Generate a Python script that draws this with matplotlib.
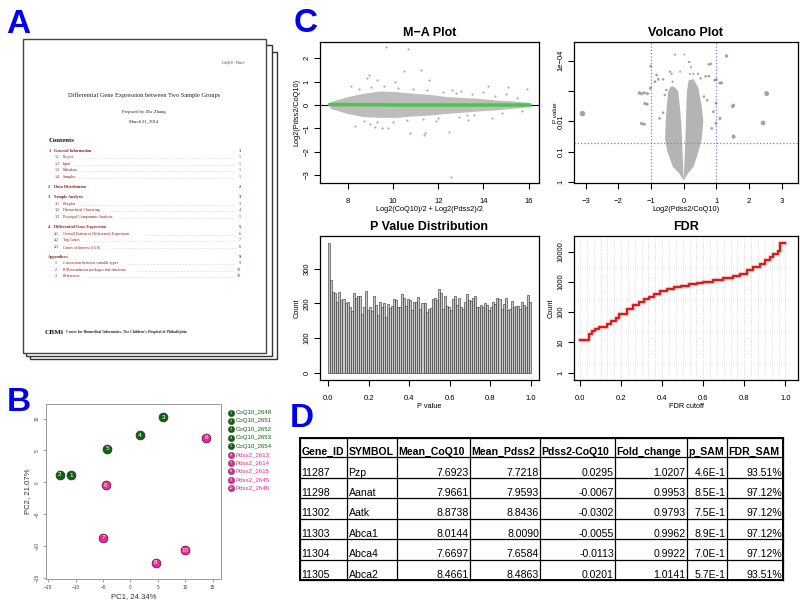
import numpy as np
import matplotlib.pyplot as plt
from matplotlib.patches import Rectangle

plt.rcParams['font.family'] = ['Liberation Sans', 'DejaVu Sans']

## ---------------- panel A : report cover (table of contents) ----------------
report_title = 'Differential Gene Expression between Two Sample Groups'
report_author = 'Prepared by Zhe Zhang'
report_date = 'March 21, 2014'
report_header = 'CoQ10 : Pdss2'
toc_num = ['1', '1.1', '1.2', '1.3', '1.4', '2', '3', '3.1', '3.2', '3.3',
           '4', '4.1', '4.2', '4.3', '', '.1', '.2', '.3']
toc_title = ['General Information', 'Project', 'Input', 'Metadata', 'Samples',
             'Data Distribution', 'Sample Analysis', 'Boxplot',
             'Hierarchical Clustering', 'Principal Components Analysis',
             'Differential Gene Expression',
             'Overall Pattern of Differential Expression', 'Top Genes',
             'Genes of Interest (GOI)', 'Appendices',
             'Conversion between variable types',
             'R/Bioconductor packages and functions', 'References']
toc_page = ['1', '1', '1', '1', '1', '2', '3', '3', '4', '5',
            '5', '6', '7', '8', '9', '9', '10', '10']

## ---------------- panel B : PCA ----------------
sample_names = ['CoQ10_2648', 'CoQ10_2651', 'CoQ10_2652', 'CoQ10_2653', 'CoQ10_2654',
                'Pdss2_2613', 'Pdss2_2614', 'Pdss2_2615', 'Pdss2_2645', 'Pdss2_2646']
sample_group = ['CoQ10'] * 5 + ['Pdss2'] * 5
pc1 = [-10.8, -12.9, 6.0, 1.7, -4.2, -4.5, -5.0, 4.6, 13.85, 10.0]
pc2 = [1.1, 1.2, 10.2, 7.4, 5.3, -0.5, -8.75, -12.65, 7.0, -10.7]

## ---------------- panel C : M-A plot ----------------
ma_env_a = [7.20, 7.94, 8.68, 9.42, 10.15, 10.89, 11.63, 12.37, 13.10, 13.84, 14.58, 15.32, 16.05]
ma_env_hi = [0.14, 0.35, 0.50, 0.60, 0.57, 0.50, 0.45, 0.36, 0.32, 0.28, 0.21, 0.17, 0.11]
ma_env_lo = [-0.14, -0.36, -0.50, -0.53, -0.53, -0.47, -0.43, -0.36, -0.31, -0.25, -0.21, -0.14, -0.07]
ma_fit = [0.02, 0.02, 0.01, 0.01, 0.0, 0.0, 0.0, 0.0, 0.0, 0.0, 0.0, 0.0, 0.0]
ma_out_a = [9.68, 10.67, 10.48, 11.24, 8.93, 8.83, 9.27, 10.08, 11.58, 8.13, 14.2, 15.1, 15.95,
            8.32, 8.97, 9.19, 9.52, 9.78, 10.74, 11.4, 11.38, 12.47, 12.57, 14.36, 13.25,
            8.5, 9.0, 9.6, 10.2, 10.9, 11.5, 12.2, 12.8, 13.5, 14.5, 15.5, 8.7, 9.3, 10.0,
            10.6, 11.3, 12.0, 12.9, 13.6, 14.8, 15.7, 13.0, 14.0, 13.3, 15.0, 12.6, 11.9]
ma_out_m = [2.5, 2.4, 1.47, 1.5, 1.29, 1.14, 1.07, 1.0, 1.07, 0.82, 0.82, 0.75, 0.68,
            -0.89, -0.81, -0.93, -0.97, -1.0, -1.21, -1.21, -1.3, -1.16, -3.1, -0.55, -0.43,
            0.7, 0.75, 0.8, 0.72, 0.68, 0.62, 0.55, 0.5, 0.45, 0.4, 0.3, -0.7, -0.72, -0.75,
            -0.65, -0.6, -0.55, -0.5, -0.42, -0.35, -0.25, 0.6, 0.55, -0.65, 0.45, 0.65, -0.7]

## ---------------- panel C : volcano ----------------
volc_left_x = [0.0, -0.15, -0.33, -0.5, -0.57, -0.55, -0.52, -0.47, -0.4, -0.3, -0.17, -0.12, -0.08, -0.05, -0.02]
volc_left_y = [0.05, 0.3, 0.5, 1.0, 1.4, 2.0, 2.5, 3.0, 3.15, 3.15, 3.0, 2.5, 2.0, 1.4, 0.6]
volc_right_x = [0.0, 0.02, 0.05, 0.07, 0.08, 0.1, 0.15, 0.3, 0.45, 0.55, 0.6, 0.55, 0.45, 0.3, 0.14]
volc_right_y = [0.05, 0.6, 1.4, 2.0, 2.5, 3.0, 3.35, 3.4, 3.1, 2.5, 2.0, 1.4, 1.0, 0.5, 0.3]
volc_x = [-3.10, 2.54, 1.31, 0.02, 0.15, -1.01, 0.83, -1.30, -1.11, -1.12, -1.21, 1.50, 2.43,
          1.53, 1.16, 1.00, -0.27, 0.18, 0.22, 0.30, 0.19, 0.44, 0.77, -0.83, -0.78, -0.63,
          -0.88, -0.34, -0.42, -0.37, -0.11, 0.67, 0.77, 0.95, 1.11, 0.52, -1.36, -1.21, -1.19,
          -1.29, -1.02, 1.52, 1.52, 1.11, 0.99, 0.99, 0.91, 0.86, -0.74, -0.63, -0.58, -0.53,
          0.62, 0.72]
volc_y = [2.26, 2.92, 4.16, 4.21, 3.96, 3.82, 3.90, 2.92, 2.92, 2.57, 1.91, 2.50, 1.95,
          1.49, 3.27, 3.38, 4.20, 3.96, 3.79, 3.57, 3.57, 3.57, 3.88, 3.53, 3.39, 3.39,
          3.31, 3.31, 3.64, 3.57, 3.64, 3.49, 3.49, 3.36, 3.27, 3.42, 2.94, 2.94, 2.59,
          1.93, 3.10, 2.53, 1.51, 2.10, 1.94, 2.60, 2.32, 1.77, 2.10, 2.29, 2.87, 3.04,
          2.82, 2.70]

## ---------------- panel C : p value histogram ----------------
p_counts = [375, 268, 232, 230, 205, 232, 210, 212, 200, 205, 190, 178, 230, 215, 222, 222,
            168, 190, 235, 180, 188, 178, 222, 195, 165, 204, 190, 200, 162, 198, 187, 192,
            212, 210, 188, 190, 228, 215, 193, 212, 210, 180, 205, 203, 218, 185, 200, 202,
            175, 185, 187, 213, 215, 210, 240, 230, 183, 222, 192, 190, 180, 212, 220, 195,
            215, 190, 185, 205, 228, 210, 208, 215, 222, 188, 190, 195, 188, 200, 195, 180,
            190, 205, 198, 215, 212, 185, 198, 215, 180, 185, 208, 190, 192, 192, 185, 203,
            195, 188, 225, 205]

## ---------------- panel C : FDR ----------------
fdr_cut = [0.0, 0.044, 0.06, 0.071, 0.093, 0.133, 0.149, 0.174, 0.19, 0.231, 0.26, 0.287,
           0.312, 0.336, 0.36, 0.39, 0.425, 0.458, 0.49, 0.531, 0.57, 0.6, 0.649, 0.698,
           0.747, 0.779, 0.812, 0.844, 0.877, 0.901, 0.926, 0.942, 0.962, 0.972, 1.0]
fdr_count = [12, 18.5, 24, 28, 33, 40, 51, 65, 85, 124, 171, 215, 265, 315, 387, 500, 590,
             675, 760, 870, 950, 1000, 1200, 1350, 1600, 1900, 2450, 3100, 4000, 5400, 6700,
             8500, 10700, 20000, 20000]

## ---------------- panel D : top table ----------------
tab_header = ['Gene_ID', 'SYMBOL', 'Mean_CoQ10', 'Mean_Pdss2', 'Pdss2-CoQ10',
              'Fold_change', 'p_SAM', 'FDR_SAM']
gene_id = ['11287', '11298', '11302', '11303', '11304', '11305']
gene_symbol = ['Pzp', 'Aanat', 'Aatk', 'Abca1', 'Abca4', 'Abca2']
mean_coq10 = [7.6923, 7.9661, 8.8738, 8.0144, 7.6697, 8.4661]
mean_pdss2 = [7.7218, 7.9593, 8.8436, 8.0090, 7.6584, 8.4863]
pdss2_minus_coq10 = [0.0295, -0.0067, -0.0302, -0.0055, -0.0113, 0.0201]
fold_change = [1.0207, 0.9953, 0.9793, 0.9962, 0.9922, 1.0141]
p_sam = ['4.6E-1', '8.5E-1', '7.5E-1', '8.9E-1', '7.0E-1', '5.7E-1']
fdr_sam = ['93.51%', '97.12%', '97.12%', '97.12%', '97.12%', '93.51%']


W, H = 800, 607
fig = plt.figure(figsize=(W / 100, H / 100), dpi=100)

# 전체 캔버스 (pixel 좌표)
canvas = fig.add_axes([0, 0, 1, 1])
canvas.set_xlim(0, W)
canvas.set_ylim(H, 0)
canvas.axis('off')


def add_ax(l, t, r, b):
    return fig.add_axes([l / W, 1 - b / H, (r - l) / W, (b - t) / H])


def r_axes(ax, fs=5.5, xpad=7, ypad=3):
    ax.tick_params(direction='out', length=4, width=0.8, labelsize=fs)
    ax.tick_params(axis='x', pad=xpad)
    ax.tick_params(axis='y', pad=ypad)
    ax.tick_params(which='minor', left=False, bottom=False)
    for lb in ax.get_yticklabels():
        lb.set_rotation(90)
        lb.set_va('center')
    for sp in ax.spines.values():
        sp.set_linewidth(0.9)


BLUE = '#0000F0'
for lx, ly, letter in [(6, 33, 'A'), (7, 411, 'B'), (294, 32, 'C'), (290, 427, 'D')]:
    canvas.text(lx, ly, letter, color=BLUE, fontsize=24, fontweight='bold', va='baseline')

## ---------------- A ----------------
serif = ['Liberation Serif', 'DejaVu Serif']
canvas.add_patch(Rectangle((30, 52), 246.7, 307.3, fc='white', ec='#333333', lw=1.0))
canvas.add_patch(Rectangle((26, 45), 245.7, 311, fc='white', ec='#333333', lw=1.0))
canvas.add_patch(Rectangle((22.7, 39.3), 243, 314, fc='white', ec='#444444', lw=1.0))

red = '#8a1c1c'
canvas.text(244, 63, report_header, family=serif, style='italic', fontsize=2.6, ha='right', va='center', color='#333')
canvas.text(144, 95, report_title, family=serif, fontsize=4.6, ha='center', va='center', color='#222')
canvas.text(144, 111.7, report_author, family=serif, fontsize=3.3, ha='center', va='center', color='#222')
canvas.text(144, 121.7, report_date, family=serif, fontsize=3.3, ha='center', va='center', color='#222')
canvas.text(48.3, 140, 'Contents', family=serif, fontsize=4.8, fontweight='bold', va='center', color='#111')

y = 150.7
for i, (num, title, pg) in enumerate(zip(toc_num, toc_title, toc_page)):
    level = 1 if '.' in num else 0
    if i > 0:
        y += 6.5 if level else 10.3
    if level == 0:
        tx = 54.3 if num else 48.3
        canvas.text(48.3, y, num, family=serif, fontsize=3.1, fontweight='bold', va='center', color=red)
        canvas.text(tx, y, title, family=serif, fontsize=3.1, fontweight='bold', va='center', color=red)
        canvas.text(240.7, y, pg, family=serif, fontsize=3.1, fontweight='bold', va='center', ha='right', color=red)
    else:
        canvas.text(54.3, y, num, family=serif, fontsize=2.9, va='center', color=red)
        canvas.text(62.7, y, title, family=serif, fontsize=2.9, va='center', color=red)
        canvas.text(240.7, y, pg, family=serif, fontsize=2.9, va='center', ha='right', color=red)
        x0 = 62.7 + len(title) * 1.9 + 3
        canvas.plot([x0, 235], [y + 1, y + 1], ls=(0, (0.4, 2.2)), lw=0.4, color='#555')

canvas.text(45, 332, 'CBMi', family=serif, fontsize=5.2, fontweight='bold', va='center', color='#111')
canvas.text(66, 332.5, "Center for Biomedical Informatics, The Children's Hospital of Philadelphia",
            family=serif, fontsize=2.7, fontweight='bold', va='center', color='#222')

## ---------------- B ----------------
col_map = {'CoQ10': '#0e640e', 'Pdss2': '#F0259A'}
ax = add_ax(46, 404, 221, 579)
for i in range(len(pc1)):
    c = col_map[sample_group[i]]
    ax.plot(pc1[i], pc2[i], 'o', ms=6.4, color=c, mec='#2a2a2a', mew=0.5)
    ax.text(pc1[i], pc2[i], str(i + 1), color='white', fontsize=4.6, ha='center', va='center')
ax.set_xlim(-15.4, 16.5)
ax.set_ylim(-15.2, 12.3)
ax.set_xticks([-15, -10, -5, 0, 5, 10, 15])
ax.set_yticks([-15, -10, -5, 0, 5, 10])
ax.tick_params(direction='out', length=2.5, width=0.5, labelsize=3.4, color='#777', labelcolor='#444', pad=2)
for lb in ax.get_yticklabels():
    lb.set_rotation(90)
    lb.set_va('center')
for sp in ax.spines.values():
    sp.set_color('#999999')
    sp.set_linewidth(0.7)
ax.set_xlabel('PC1, 24.34%', fontsize=5.6, labelpad=2, color='#333')
ax.set_ylabel('PC2, 21.07%', fontsize=5.6, labelpad=3, color='#333')

for i, name in enumerate(sample_names):
    c = col_map[sample_group[i]]
    yy = 412.5 + i * 8.4
    canvas.plot(230.5, yy, 'o', ms=4.6, color=c, mec='#2a2a2a', mew=0.3)
    canvas.text(230.5, yy + 0.2, str(i + 1), color='white', fontsize=2.8, ha='center', va='center')
    canvas.text(235.5, yy, name, color=c, fontsize=4.4, va='center')

## ---------------- C : M-A ----------------
ax = add_ax(320, 41.7, 539, 182.7)
ax.fill_between(ma_env_a, ma_env_lo, ma_env_hi, color='#bdbdbd', lw=0)
ax.scatter(ma_out_a, ma_out_m, s=2.4, color='#a8a8a8', lw=0)
ax.axhline(0, color='black', lw=0.8)
ax.plot(ma_env_a, ma_fit, color='#45c845', lw=2.4)
ax.set_xlim(6.76, 16.46)
ax.set_ylim(-3.33, 2.71)
ax.set_xticks([8, 10, 12, 14, 16])
ax.set_yticks([-3, -2, -1, 0, 1, 2])
r_axes(ax)
ax.set_title('M\u2212A Plot', fontsize=9, fontweight='bold', pad=4)
ax.set_xlabel('Log2(CoQ10)/2 + Log2(Pdss2)/2', fontsize=5.3, labelpad=0.5)
ax.set_ylabel('Log2(Pdss2/CoQ10)', fontsize=5.3, labelpad=2)

## ---------------- C : volcano ----------------
ax = add_ax(574.3, 41.7, 797.7, 182.7)
ax.fill(volc_left_x, volc_left_y, color='#b4b4b4', lw=0)
ax.fill(volc_right_x, volc_right_y, color='#b4b4b4', lw=0)
sizes = [(0.72 * (1.8 + 1.2 * abs(v))) ** 2 for v in volc_x]
ax.scatter(volc_x, volc_y, s=sizes, color='#a3a3a3', lw=0)
for xv in [-1, 1]:
    ax.axvline(xv, color='#7b7bd6', ls=':', lw=0.9)
ax.axhline(-np.log10(0.05), color='#7b7bd6', ls=':', lw=0.9)
ax.set_xlim(-3.35, 3.49)
ax.set_ylim(-0.02, 4.63)
ax.set_xticks([-3, -2, -1, 0, 1, 2, 3])
ax.set_yticks([0, 1, 2, 3, 4])
ax.set_yticklabels(['1', '0.1', '0.01', '', '1e\u221204'])
r_axes(ax)
ax.set_title('Volcano Plot', fontsize=9, fontweight='bold', pad=4)
ax.set_xlabel('Log2(Pdss2/CoQ10)', fontsize=5.3, labelpad=0.5)
ax.set_ylabel('P value', fontsize=4.5, labelpad=0)

## ---------------- C : p value distribution ----------------
ax = add_ax(320, 236, 539, 380)
bins = np.arange(len(p_counts)) / len(p_counts)
ax.bar(bins, p_counts, width=1 / len(p_counts), align='edge', color='#c8c8c8', edgecolor='#2a2a2a', lw=0.4)
ax.set_xlim(-0.041, 1.04)
ax.set_ylim(-21, 394)
ax.set_xticks([0, 0.2, 0.4, 0.6, 0.8, 1.0])
ax.set_xticklabels(['0.0', '0.2', '0.4', '0.6', '0.8', '1.0'])
ax.set_yticks([0, 100, 200, 300])
r_axes(ax)
ax.set_title('P Value Distribution', fontsize=9, fontweight='bold', pad=4)
ax.set_xlabel('P value', fontsize=5.3, labelpad=0.5)
ax.set_ylabel('Count', fontsize=5.3, labelpad=2)

## ---------------- C : FDR ----------------
ax = add_ax(574.3, 236, 797.7, 380)
for gx in np.linspace(0, 1, 31):
    ax.axvline(gx, color='#cfcfcf', ls=':', lw=0.6)
ax.step(fdr_cut, fdr_count, where='post', color='#f2a0a0', lw=3.2, alpha=0.6)
ax.step(fdr_cut, fdr_count, where='post', color='#d91a1a', lw=1.5)
ax.set_yscale('log')
ax.set_xlim(-0.028, 1.06)
ax.set_ylim(10 ** -0.24, 10 ** 4.52)
ax.set_xticks([0, 0.2, 0.4, 0.6, 0.8, 1.0])
ax.set_xticklabels(['0.0', '0.2', '0.4', '0.6', '0.8', '1.0'])
ax.set_yticks([1, 10, 100, 1000, 10000])
ax.set_yticklabels(['1', '10', '100', '1000', '10000'])
ax.minorticks_off()
r_axes(ax)
ax.set_title('FDR', fontsize=9, fontweight='bold', pad=4)
ax.set_xlabel('FDR cutoff', fontsize=5.3, labelpad=0.5)
ax.set_ylabel('Count', fontsize=5.3, labelpad=2)

## ---------------- D : table ----------------
col_edges = [300, 347.3, 396.7, 470, 540, 615, 686.7, 726.7, 783.3]
row_edges = [437.7] + [457.3 + 20.45 * k for k in range(7)]
for xe in col_edges:
    canvas.plot([xe, xe], [row_edges[0], row_edges[-1]], color='black', lw=0.9)
for ye in row_edges:
    canvas.plot([col_edges[0], col_edges[-1]], [ye, ye], color='black', lw=0.9)
canvas.add_patch(Rectangle((col_edges[0], row_edges[0]), col_edges[-1] - col_edges[0],
                           row_edges[-1] - row_edges[0], fill=False, ec='black', lw=1.4))

for j, htxt in enumerate(tab_header):
    canvas.text(col_edges[j] + 1.2, row_edges[1] - 2.6, htxt, fontsize=7.6, fontweight='bold',
                va='baseline', ha='left')

rows = list(zip(gene_id, gene_symbol,
                [f'{v:.4f}' for v in mean_coq10], [f'{v:.4f}' for v in mean_pdss2],
                [f'{v:.4f}' for v in pdss2_minus_coq10], [f'{v:.4f}' for v in fold_change],
                p_sam, fdr_sam))
for r, row in enumerate(rows):
    yb = row_edges[r + 2] - 2.2
    for j, cell in enumerate(row):
        if j < 2:
            canvas.text(col_edges[j] + 1.2, yb, cell, fontsize=7.6, va='baseline', ha='left')
        else:
            canvas.text(col_edges[j + 1] - 1.0, yb, cell, fontsize=7.6, va='baseline', ha='right')

fig.savefig('out.png', dpi=100)
